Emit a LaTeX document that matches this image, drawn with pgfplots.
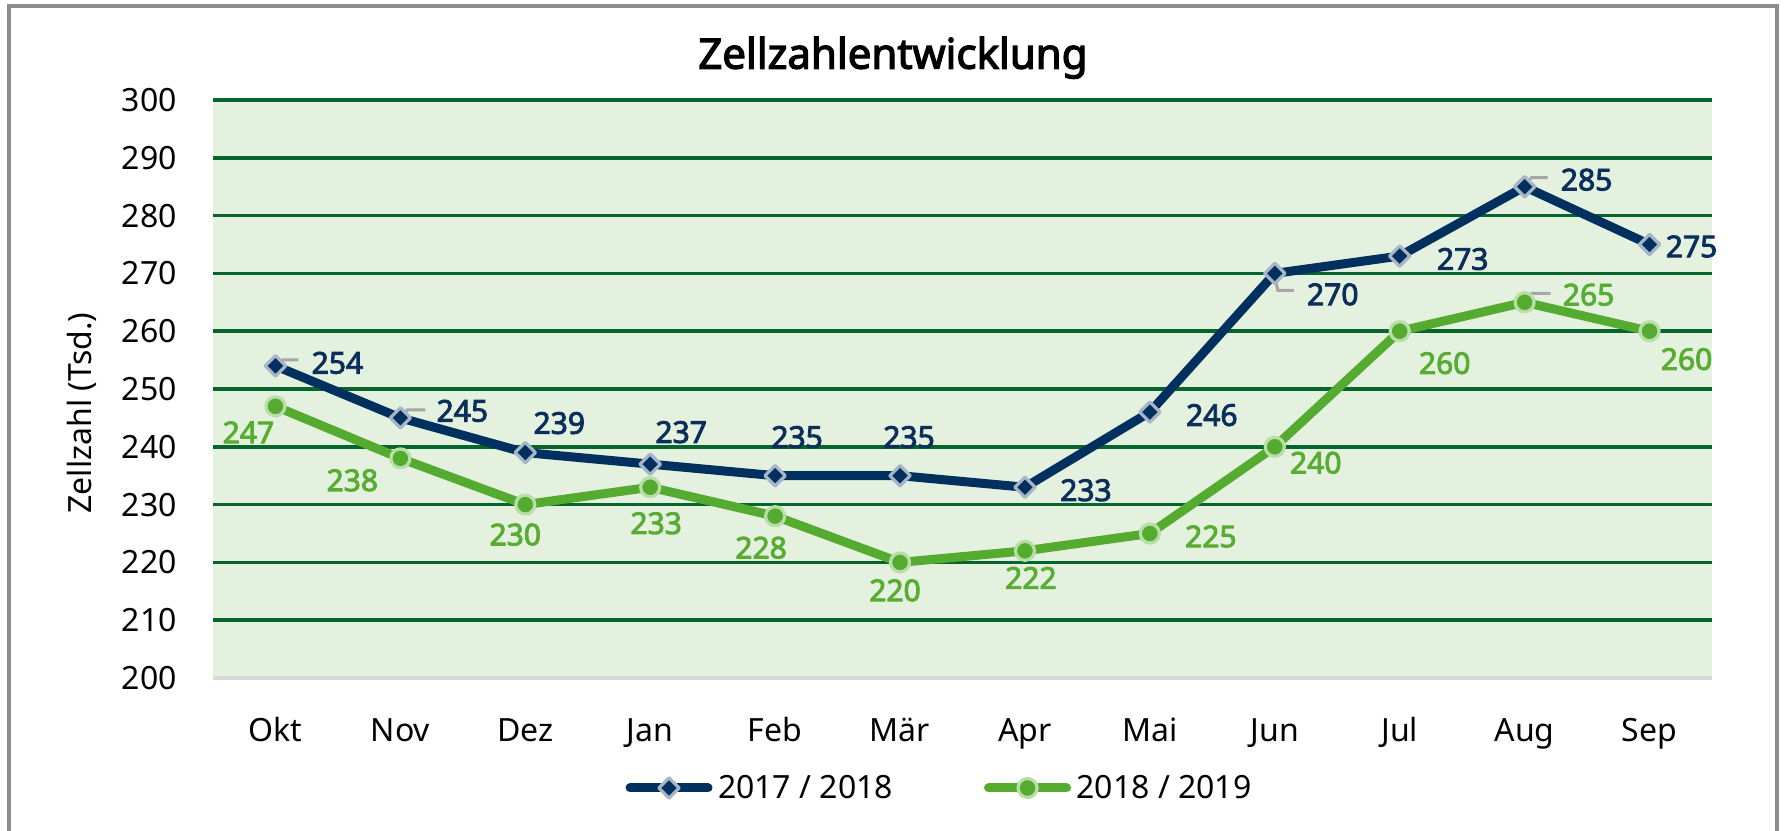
\documentclass[border=0pt]{standalone}
\usepackage{fontspec}
\setmainfont{Noto Sans}[BoldFont={Noto Sans}, BoldFeatures={FakeBold=3}]
\usepackage{pgfplots}
\pgfplotsset{compat=1.18}
\usepackage{pgfplotstable}

\definecolor{navy}{HTML}{00305E}
\definecolor{navyout}{HTML}{A7B5C9}
\definecolor{navylbl}{HTML}{0B2F5B}
\definecolor{grn}{HTML}{54AB2F}
\definecolor{grnout}{HTML}{B9DEA8}
\definecolor{grnlbl}{HTML}{57AC31}
\definecolor{gridgreen}{HTML}{05652D}
\definecolor{bgg}{HTML}{E5F1DF}
\definecolor{baseline}{HTML}{D9D9D9}
\definecolor{frame}{HTML}{8C8C8C}
\definecolor{leader}{HTML}{A6A6A6}

\pgfplotstableread{
x y dx dy
0 254 62 3
1 245 62 7
2 239 34 29.5
3 237 31 32
4 235 22 38.6
5 235 9 38.6
6 233 61 -3
7 246 62 -3
8 270 58 -21
9 273 63 -3
10 285 62 7
11 275 42 -2
}\tA

\pgfplotstableread{
x y dx dy
0 247 -27 -26
1 238 -48 -22
2 230 -10 -30
3 233 6 -36
4 228 -14 -31.6
5 220 -5 -28
6 222 6 -27
7 225 61 -3
8 240 41 -16
9 260 45 -32
10 265 64 7.6
11 260 37 -28
}\tB

\begin{document}
\begin{tikzpicture}
\useasboundingbox (0pt,0pt) rectangle (1785pt,830pt);
\fill[white] (0pt,0pt) rectangle (1785pt,830pt);
\draw[frame, line width=4pt] (8.7pt,-20pt) -- (8.7pt,824pt) -- (1777pt,824pt) -- (1777pt,-20pt);
\begin{axis}[
  at={(213pt,152pt)}, anchor=south west,
  scale only axis, width=1499pt, height=578pt,
  xmin=-0.5, xmax=11.5, ymin=200, ymax=300,
  enlargelimits=false, clip=false,
  /pgf/number format/assume math mode=true,
  xtick={0,...,11},
  xticklabels={Okt,Nov,Dez,Jan,Feb,Mär,Apr,Mai,Jun,Jul,Aug,Sep},
  ytick={200,210,...,300},
  major tick length=0pt,
  ticklabel style={font=\fontsize{32}{38}\selectfont, text=black},
  yticklabel style={anchor=east, inner sep=0pt, xshift=-36pt},
  xticklabel style={anchor=base, inner sep=0pt, yshift=-63.7pt},
  axis x line*=bottom, axis y line*=left,
  x axis line style={-, draw=baseline, line width=4pt},
  y axis line style={draw=none},
  axis background/.style={fill=bgg},
  ymajorgrids, major grid style={draw=gridgreen, line width=3.5pt},
  title={Zellzahlentwicklung},
  title style={at={(axis description cs:0.4536,1.0439)}, anchor=base, inner sep=0pt,
    font=\bfseries\fontsize{42}{50}\selectfont},
  ylabel={Zellzahl (Tsd.)},
  ylabel style={at={(axis description cs:-0.0874,0.4585)}, anchor=center, inner sep=0pt,
    font=\fontsize{32}{38}\selectfont},
  legend columns=2,
  legend style={at={(axis description cs:0.2752,-0.1903)}, anchor=west, draw=none, fill=none,
    inner sep=0pt, outer sep=0pt, nodes={inner sep=0pt}, font=\fontsize{32}{38}\selectfont,
    /tikz/every odd column/.append style={column sep=5.5pt}},
  legend image code/.code={
    \draw[mark repeat=2,mark phase=2,#1] plot coordinates {(0pt,0pt) (39pt,0pt) (78pt,0pt)};},
]
\addplot[navy, line width=9pt, line cap=round, line join=round,
  mark=square*, mark size=7.2pt, mark options={rotate=45, fill=navy, draw=navyout, line width=3.2pt}]
  table[x=x, y=y] {\tA};
\addlegendentry{\makebox[266pt][l]{2017 / 2018}}
\addplot[grn, line width=9pt, line cap=round, line join=round,
  mark=*, mark size=9.5pt, mark options={fill=grn, draw=grnout, line width=3.2pt}]
  table[x=x, y=y] {\tB};
\addlegendentry{2018 / 2019}
\tikzset{ldr/.style={draw=leader, line width=3pt}}
\draw[ldr] ([shift={(2pt,2pt)}]axis cs:0,254) -- ([shift={(7pt,6pt)}]axis cs:0,254) -- ([shift={(23pt,6pt)}]axis cs:0,254);
\draw[ldr] ([shift={(2pt,2pt)}]axis cs:1,245) -- ([shift={(7pt,8pt)}]axis cs:1,245) -- ([shift={(25pt,8pt)}]axis cs:1,245);
\draw[ldr] ([shift={(0pt,-3pt)}]axis cs:8,270) -- ([shift={(3pt,-17pt)}]axis cs:8,270) -- ([shift={(19pt,-17pt)}]axis cs:8,270);
\draw[ldr] ([shift={(2pt,4pt)}]axis cs:10,285) -- ([shift={(7pt,9pt)}]axis cs:10,285) -- ([shift={(23pt,9pt)}]axis cs:10,285);
\draw[ldr] ([shift={(2pt,3pt)}]axis cs:10,265) -- ([shift={(7pt,9pt)}]axis cs:10,265) -- ([shift={(26pt,9pt)}]axis cs:10,265);
\addplot[draw=none, mark=none, forget plot,
  visualization depends on={\thisrow{dx}\as\lblx},
  visualization depends on={\thisrow{dy}\as\lbly},
  nodes near coords,
  every node near coord/.append style={anchor=center, inner sep=0pt, xshift=\lblx pt, yshift=\lbly pt,
    text=navylbl, font=\bfseries\fontsize{30}{36}\selectfont}]
  table[x=x, y=y] {\tA};
\addplot[draw=none, mark=none, forget plot,
  visualization depends on={\thisrow{dx}\as\lblx},
  visualization depends on={\thisrow{dy}\as\lbly},
  nodes near coords,
  every node near coord/.append style={anchor=center, inner sep=0pt, xshift=\lblx pt, yshift=\lbly pt,
    text=grnlbl, font=\bfseries\fontsize{30}{36}\selectfont}]
  table[x=x, y=y] {\tB};
\end{axis}
\end{tikzpicture}
\end{document}
